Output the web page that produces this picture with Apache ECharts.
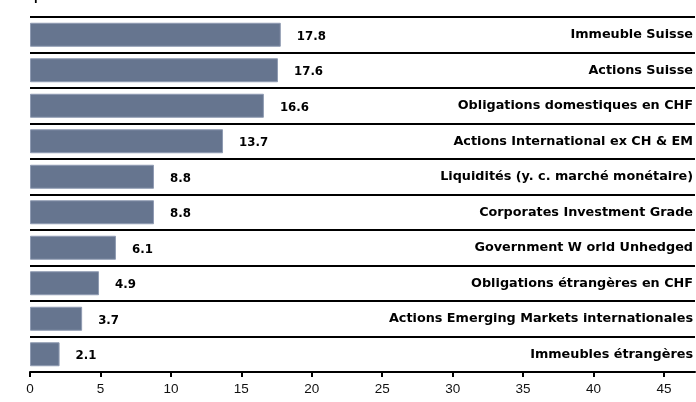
<!DOCTYPE html>
<html>
<head>
<meta charset="utf-8">
<script src="https://cdn.jsdelivr.net/npm/echarts@6/dist/echarts.min.js"></script>
<style>html,body{margin:0;padding:0;background:#fff;}#c{width:696px;height:402px;}</style>
</head>
<body>
<div id="c"></div>
<script>
const categories = [
  'Immeuble Suisse',
  'Actions Suisse',
  'Obligations domestiques en CHF',
  'Actions International ex CH & EM',
  'Liquidités (y. c. marché monétaire)',
  'Corporates Investment Grade',
  'Government W orld Unhedged',
  'Obligations étrangères en CHF',
  'Actions Emerging Markets internationales',
  'Immeubles étrangères'
];
const values = [17.8, 17.6, 16.6, 13.7, 8.8, 8.8, 6.1, 4.9, 3.7, 2.1];
const xTicks = [0, 5, 10, 15, 20, 25, 30, 35, 40, 45];

const chart = echarts.init(document.getElementById('c'), null, {renderer: 'canvas'});
chart.setOption({
  animation: false,
  backgroundColor: '#fff',
  grid: {left: 30, right: 0, top: 17, bottom: 30, containLabel: false},
  xAxis: {
    type: 'value', min: 0, max: 47.2, interval: 5,
    axisLine: {show: true, lineStyle: {color: '#000', width: 2}},
    axisTick: {show: true, inside: false, length: 5, lineStyle: {color: '#000', width: 2}},
    axisLabel: {
      showMaxLabel: false, margin: 10, color: '#111',
      fontFamily: 'Liberation Sans', fontSize: 13.5,
      formatter: v => xTicks.includes(v) ? String(v) : ''
    },
    splitLine: {show: false}
  },
  yAxis: {
    type: 'category', data: categories, inverse: true, position: 'right',
    axisLine: {show: false}, axisTick: {show: false},
    axisLabel: {
      inside: true, margin: 2, color: '#000',
      fontFamily: 'DejaVu Sans', fontWeight: 'bold', fontSize: 12.8,
      padding: [3, 0, 0, 0]
    },
    splitLine: {show: true, lineStyle: {color: '#000', width: 2}}
  },
  series: [{
    type: 'bar', data: values, barWidth: 24,
    itemStyle: {color: '#66758f', borderColor: '#8f9bb2', borderWidth: 1},
    label: {
      show: true, position: 'right', distance: 16, color: '#000',
      fontFamily: 'DejaVu Sans', fontWeight: 'bold', fontSize: 11.8,
      offset: [0, 2],
      formatter: p => p.value.toFixed(1)
    }
  }],
  graphic: [{
    type: 'text', left: 34, top: -10,
    style: {text: 'p', font: 'bold 13px "Liberation Sans"', fill: '#000'}
  }]
});
</script>
</body>
</html>
